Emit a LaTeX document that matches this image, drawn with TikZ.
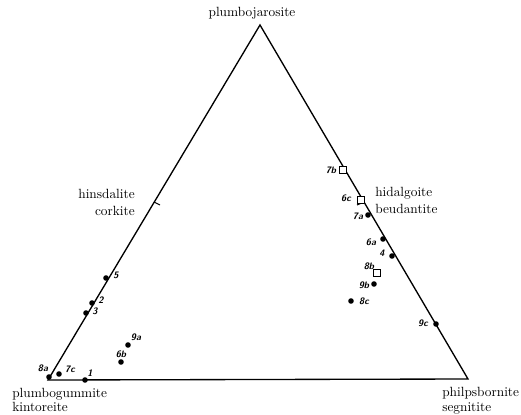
\documentclass[tikz,border=0pt]{standalone}
\usepackage{amsmath,amssymb}

\begin{document}
\begin{tikzpicture}[x = 0.75pt, y = -0.75pt,
  pt/.style = {circle, fill = black, inner sep = 0pt, minimum size = 4.2pt},
  sq/.style = {draw = black, fill = white, thick, inner sep = 0pt, minimum size = 5.5pt},
  num/.style = {font = \sffamily\bfseries\itshape\scriptsize, inner sep = 0pt},
  mineral/.style = {font = \normalsize, inner sep = 0pt}]
\useasboundingbox (0,0) rectangle (521,414);
\coordinate (top) at (260,25);
\coordinate (left) at (48,380);
\coordinate (right) at (468,379);
\draw [black, line width = 1pt] (left) -- (top) -- (right) -- cycle;
% ticks at the edge midpoints
\coordinate (midl) at (154,202);
\coordinate (midr) at (364,202);
\draw [black, thick] (midl) -- (160,205);
\draw [black, thick] (midr) -- (357,205);
% corner and edge names
\node [mineral] (pj) at (252,13) {plumbojarosite};
\node [mineral, anchor = east] (hins) at (135,194) {hinsdalite};
\node [mineral, anchor = east] (cork) at (135,211) {corkite};
\node [mineral, anchor = west] (hid) at (375,193) {hidalgoite};
\node [mineral, anchor = west] (beu) at (375,209) {beudantite};
\node [mineral, anchor = west] (pg) at (12,394) {plumbogummite};
\node [mineral, anchor = west] (kin) at (12,407) {kintoreite};
\node [mineral, anchor = west] (phil) at (442,393) {philpsbornite};
\node [mineral, anchor = west] (seg) at (442,408) {segnitite};
% samples on the left side
\node [pt] (p5) at (106,278) {};
\node [pt] (p2) at (92,303) {};
\node [pt] (p3) at (86,313) {};
\node [pt] (p9a) at (128,345) {};
\node [pt] (p6b) at (121,362) {};
\node [pt] (p8a) at (49,377) {};
\node [pt] (p7c) at (59,374) {};
\node [pt] (p1) at (85,380) {};
\node [num] at (116,275) {5};
\node [num] at (101,300) {2};
\node [num] at (95,311) {3};
\node [num] at (136,337) {9a};
\node [num] at (121,354) {6b};
\node [num] at (43,368) {8a};
\node [num] at (70,369) {7c};
\node [num] at (90,373) {1};
% samples on the right side
\node [sq] (p7b) at (343,170) {};
\node [sq] (p6c) at (361,200) {};
\node [pt] (p7a) at (368,215) {};
\node [pt] (p6a) at (383,239) {};
\node [pt] (p4) at (392,256) {};
\node [sq] (p8b) at (377,273) {};
\node [pt] (p9b) at (374,284) {};
\node [pt] (p8c) at (351,301) {};
\node [pt] (p9c) at (436,324) {};
\node [num] at (331,170) {7b};
\node [num] at (346,198) {6c};
\node [num] at (358,216) {7a};
\node [num] at (371,242) {6a};
\node [num] at (382,253) {4};
\node [num] at (369,266) {8b};
\node [num] at (364,285) {9b};
\node [num] at (364,301) {8c};
\node [num] at (423,323) {9c};
\end{tikzpicture}
\end{document}
